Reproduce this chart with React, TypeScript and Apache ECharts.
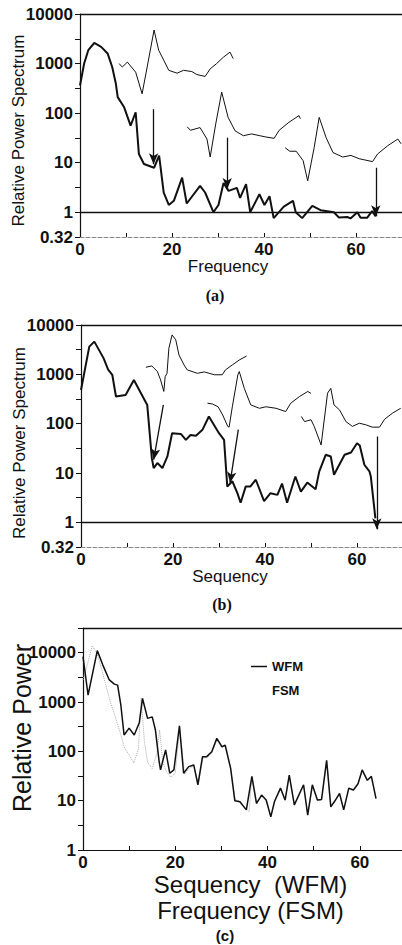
import React, { useEffect, useRef } from "react";
import * as echarts from "echarts";

// ---------- DATA ----------
// Panel (a): Frequency vs Relative Power Spectrum
const aMain: number[][] = [
  [0, 360], [0.9, 1000], [1.8, 1860], [3.1, 2600], [4.6, 2170], [6.0, 1600], [7.0, 850], [7.8, 390],
  [8.2, 210], [9.6, 131], [11.0, 56], [12.1, 104], [12.8, 15], [13.9, 9.4], [16.1, 7.9], [17.2, 13.8],
  [18.2, 2.5], [19.3, 1.4], [20.4, 1.7], [22.2, 5.0], [23.2, 1.5], [26.1, 3.4], [27.2, 2.5], [29.0, 1.0],
  [30.1, 1.4], [31.2, 3.9], [32.3, 2.7], [34.1, 3.1], [34.8, 1.95], [36.1, 3.7], [37.0, 1.0], [39.0, 2.3],
  [40.1, 1.4], [41.2, 2.1], [42.1, 0.76], [44.3, 1.3], [46.3, 1.7], [46.9, 1.0], [48.3, 0.76], [50.5, 1.35],
  [52.3, 1.1], [55.2, 1.0], [56.3, 0.78], [58.1, 0.8], [58.8, 0.75], [60.3, 1.0], [61.0, 0.77], [62.4, 0.77],
  [63.5, 1.05], [64.3, 0.82],
];
const aInset1: number[][] = [
  [8.5, 1000], [9.2, 850], [10.3, 1070], [12.1, 670], [13.5, 245], [14.6, 850], [16.1, 4750], [17.1, 1860],
  [18.2, 1170], [19.3, 730], [21.1, 640], [22.5, 730], [24.3, 690], [25.4, 600], [27.2, 550], [28.3, 780],
  [29.7, 1000], [31.2, 1350], [32.6, 1700], [33.3, 1260],
];
const aInset2: number[][] = [
  [23.3, 53], [24.0, 45], [26.1, 51], [27.6, 30], [28.3, 13], [29.5, 60], [30.8, 265], [32.2, 82],
  [33.7, 44], [35.5, 35], [37.3, 38], [39.1, 35], [40.4, 33], [42.2, 31], [43.3, 45], [45.4, 65],
  [47.6, 89], [47.9, 77],
];
const aInset3: number[][] = [
  [44.6, 20], [45.6, 17], [47.0, 17], [48.5, 11], [49.5, 4.3], [50.9, 20], [52.0, 82], [53.5, 32],
  [55.0, 16], [57.1, 13], [58.9, 14], [60.7, 12], [63.6, 10.5], [64.7, 15], [66.9, 22], [69.1, 30], [69.8, 24],
];
const aArrows: number[][][] = [
  [[16, 120], [16, 9.3]],
  [[32, 32], [32, 2.95]],
  [[64.3, 7.9], [64.3, 0.83]],
];

// Panel (b): Sequency vs Relative Power Spectrum
const bMain: number[][] = [
  [0, 480], [1.8, 3640], [2.9, 4600], [4.9, 2130], [5.9, 1240], [6.8, 980], [7.6, 355], [9.7, 380],
  [11.5, 770], [14.4, 240], [15.4, 20], [15.8, 12.6], [16.6, 15.9], [17.7, 12.6], [18.8, 22], [19.8, 64],
  [21.7, 62], [22.8, 47], [23.8, 59], [25.0, 57], [26.4, 75], [27.8, 140], [30.0, 64], [31.1, 47],
  [31.8, 5.3], [32.9, 6.8], [34.0, 3.9], [34.7, 2.5], [35.8, 5.3], [36.8, 5.3], [38.0, 7.3], [39.8, 2.7],
  [41.2, 3.9], [42.7, 3.6], [43.7, 6.1], [44.8, 2.5], [46.6, 8.5], [47.8, 4.2], [49.2, 6.4], [51.0, 4.7],
  [51.8, 10.8], [53.2, 23.4], [54.3, 21.6], [55.0, 9.2], [57.3, 23.4], [58.7, 26], [60.0, 40], [60.6, 36],
  [61.6, 14.7], [62.7, 10.8], [63.0, 8.5], [64.0, 1.2],
];
const bInset1: number[][] = [
  [14.1, 1390], [15.4, 1480], [16.6, 1140], [17.3, 770], [18.0, 450], [18.3, 900], [18.7, 1050], [19.1, 3380],
  [19.8, 6300], [20.6, 5000], [21.3, 2470], [22.4, 1550], [23.1, 1230], [25.3, 1050], [26.8, 1120], [29.0, 980],
  [30.7, 980], [31.4, 1230], [32.9, 1550], [34.4, 1950], [36.0, 2350],
];
const bInset2: number[][] = [
  [27.5, 260], [28.6, 250], [29.8, 220], [30.8, 150], [31.9, 88], [32.2, 85], [32.9, 220], [34.1, 980],
  [34.4, 1140], [35.5, 520], [36.9, 240], [38.8, 205], [40.2, 220], [42.4, 205], [44.5, 176], [45.6, 260],
  [47.5, 355], [49.3, 450], [50.0, 410],
];
const bInset3: number[][] = [
  [47.9, 140], [48.6, 110], [50.0, 120], [50.7, 88], [52.2, 37], [53.6, 415], [54.3, 520], [55.0, 240],
  [56.2, 190], [57.6, 110], [59.0, 88], [60.5, 102], [61.9, 95], [63.3, 85], [64.9, 85], [66.0, 123],
  [67.7, 163], [69.5, 205],
];
const bArrows: number[][][] = [
  [[17.9, 240], [15.8, 18.6]],
  [[34.2, 76], [32.4, 6.3]],
  [[64.3, 55], [64.3, 0.72]],
];

// Panel (c): WFM vs FSM
const cWFM: number[][] = [
  [0, 8300], [1.1, 1380], [3.1, 11000], [4.3, 5600], [5.7, 2800], [6.8, 2300], [7.5, 2200], [8.2, 870],
  [8.9, 215], [10.0, 295], [11.1, 215], [12.2, 380], [12.9, 1180], [14.0, 465], [15.0, 500], [15.7, 270],
  [16.5, 62], [16.8, 42], [17.9, 107], [18.8, 36], [19.7, 42], [20.9, 330], [21.8, 36], [22.9, 49],
  [24.0, 53], [24.9, 21], [25.9, 78], [26.8, 78], [27.9, 98], [29.0, 183], [30.1, 124], [30.8, 134],
  [32.0, 45], [32.9, 10], [34.0, 9.5], [35.4, 6.5], [36.6, 31], [37.6, 8.8], [38.7, 13], [39.7, 10.3],
  [40.7, 4.7], [41.5, 9.6], [42.8, 18], [43.8, 10.3], [44.7, 33], [45.8, 8.2], [47.8, 21], [48.7, 5.1],
  [49.7, 21], [50.8, 10.3], [51.7, 10.6], [52.8, 66], [53.7, 7.5], [54.5, 9.6], [55.6, 14], [56.5, 6.5],
  [57.6, 18], [58.6, 16.5], [59.6, 22], [60.5, 42], [61.6, 26], [62.5, 31], [63.5, 11],
];
const cFSM: number[][] = [
  [0, 2800], [1, 6000], [2, 13800], [3, 9700], [4, 4800], [5, 2100], [6, 950], [7, 500],
  [8, 250], [9, 117], [10, 85], [11, 58], [12, 110], [12.6, 1200], [13.3, 160], [14, 60],
  [15, 45], [16, 90], [16.6, 270], [17.3, 60], [18, 40], [19, 30], [20, 36], [21, 300],
  [22, 34], [23, 45], [24, 50], [25, 22], [26, 72], [27, 75], [28, 95], [29, 175],
  [30, 120], [31, 130], [32, 42], [33, 10.5], [34, 9.8], [35, 7.2], [36, 6], [36.6, 30],
  [37.6, 8.5], [38.7, 12.5], [39.7, 10], [40.7, 4.8], [41.5, 9.3], [42.8, 17], [43.8, 10], [44.7, 32],
  [45.8, 8], [47.8, 20], [48.7, 5.3], [49.7, 20], [50.8, 10], [51.7, 10.3], [52.8, 64], [53.7, 7.8],
  [54.5, 9.3], [55.6, 13.5], [56.5, 6.8], [57.6, 17], [58.6, 16], [59.6, 21], [60.5, 40], [61.6, 25],
  [62.5, 30], [63.5, 11.5],
];

// Tick labels
const xTickLabels = ["0", "20", "40", "60"];
const yTickLabelsAB = ["0.32", "1", "10", "100", "1000", "10000"]; // at log -0.5, 0, 1, 2, 3, 4
const yTickLabelsC = ["1", "10", "100", "1000", "10000"]; // at log 0..4

// ---------- helpers ----------
const FONT = '"Liberation Sans", Arial, Helvetica, sans-serif';
const SERIF = '"Liberation Serif", "Times New Roman", serif';
const INK = "#111";
const toLog = (pts: number[][]) => pts.map(([x, v]) => [x, Math.log10(v)]);

const yFmtAB = (v: number) => {
  const r = Math.round(v * 10) / 10;
  if (Math.abs(r + 0.5) < 1e-6) return yTickLabelsAB[0];
  if (Number.isInteger(r) && r >= 0 && r <= 4) return yTickLabelsAB[r + 1];
  return "";
};
const yFmtC = (v: number) => {
  const r = Math.round(v * 10) / 10;
  if (Number.isInteger(r) && r >= 0 && r <= 4) return yTickLabelsC[r];
  return "";
};
const xFmt = (v: number) => {
  const i = xTickLabels.indexOf(String(v));
  return i >= 0 ? xTickLabels[i] : "";
};

const tickLabelStyle = { fontSize: 17, fontWeight: "bold" as const, color: INK, fontFamily: FONT };

function makeX(gridIndex: number, name: string, nameGap: number, padding: number[], solid: boolean, nameSize: number, lineHeight?: number) {
  return {
    type: "value",
    gridIndex,
    min: 0,
    max: 70,
    interval: 10,
    axisLine: {
      show: true,
      onZero: false,
      lineStyle: solid ? { color: INK, width: 1.2 } : { color: "#888", width: 1, type: "dashed" },
    },
    axisTick: { show: true, inside: true, length: 4, lineStyle: { color: INK, width: 1 } },
    axisLabel: { ...tickLabelStyle, lineHeight: 17, margin: 4, formatter: xFmt, showMinLabel: true, showMaxLabel: true },
    splitLine: { show: false },
    name,
    nameLocation: "middle",
    nameGap,
    nameMoveOverlap: false,
    nameTextStyle: { fontSize: nameSize, color: INK, fontFamily: FONT, padding, lineHeight },
  };
}

function makeY(gridIndex: number, min: number, max: number, fmt: (v: number) => string, name: string, nameGap: number, nameSize: number, padding: number[]) {
  return {
    type: "value",
    gridIndex,
    min,
    max,
    interval: 0.5,
    axisLine: { show: true, onZero: false, lineStyle: { color: INK, width: 1.2 } },
    axisTick: { show: true, inside: false, length: 5, lineStyle: { color: INK, width: 1 } },
    axisLabel: { ...tickLabelStyle, margin: 7, formatter: fmt, showMinLabel: true, showMaxLabel: true },
    splitLine: { show: false },
    name,
    nameLocation: "middle",
    nameGap,
    nameMoveOverlap: false,
    nameTextStyle: { fontSize: nameSize, color: INK, fontFamily: FONT, padding },
  };
}

const arrowMark = (arrows: number[][][]) =>
  arrows.map(([p, q]) => [
    { coord: [p[0], Math.log10(p[1])], symbol: "none" },
    { coord: [q[0], Math.log10(q[1])], symbol: "arrow", symbolSize: [7, 11] },
  ]);

function line(idx: number, name: string, pts: number[][], width: number, extra: any = {}) {
  return {
    type: "line",
    name,
    xAxisIndex: idx,
    yAxisIndex: idx,
    data: toLog(pts),
    symbol: "none",
    smooth: false,
    lineStyle: { color: INK, width },
    itemStyle: { color: INK },
    silent: true,
    ...extra,
  };
}

const frameMark = (levels: number[], arrows: number[][][]) => ({
  silent: true,
  symbol: ["none", "none"],
  label: { show: false },
  emphasis: { disabled: true },
  lineStyle: { color: INK, width: 1.3, type: "solid" },
  data: [...levels.map((y) => ({ yAxis: y })), ...arrowMark(arrows)],
});

export default function App() {
  const ref = useRef<HTMLDivElement>(null);
  useEffect(() => {
    document.body.style.margin = "0";
    if (!ref.current) return;
    const chart = echarts.init(ref.current, undefined, { renderer: "svg" });
    const option: any = {
      animation: false,
      backgroundColor: "#fff",
      textStyle: { fontFamily: FONT },
      grid: [
        { left: 80, top: 14, width: 322, height: 223, outerBoundsMode: "none", containLabel: false },
        { left: 81, top: 325, width: 322, height: 222, outerBoundsMode: "none", containLabel: false },
        { left: 83, top: 628, width: 323, height: 222, outerBoundsMode: "none", containLabel: false },
      ],
      xAxis: [
        makeX(0, "Frequency", 21, [0, 26, 0, 0], false, 17),
        makeX(1, "Sequency", 21, [0, 24, 0, 0], false, 17),
        makeX(2, "Sequency  (WFM)\nFrequency (FSM)", 21, [0, 0, 0, 12], true, 24, 26),
      ],
      yAxis: [
        makeY(0, -0.5, 4, yFmtAB, "Relative Power Spectrum", 53, 17, [0, 10, 0, 0]),
        makeY(1, -0.5, 4, yFmtAB, "Relative Power Spectrum", 53, 17, [0, 14, 0, 0]),
        makeY(2, 0, 4.5, yFmtC, "Relative Power", 49, 25, [0, 0, 0, 22]),
      ],
      legend: {
        data: [
          { name: "WFM", icon: "rect", itemStyle: { color: INK } },
          { name: "FSM", icon: "rect", itemStyle: { color: "#fff", opacity: 0 } },
        ],
        orient: "vertical",
        left: 246,
        top: 654,
        itemWidth: 16,
        itemHeight: 1.5,
        itemGap: 9,
        selectedMode: false,
        textStyle: { fontSize: 13, fontWeight: "bold", color: INK, fontFamily: FONT, lineHeight: 15 },
      },
      series: [
        line(0, "a-main", aMain, 2, { markLine: frameMark([0, 4], aArrows) }),
        line(0, "a-inset1", aInset1, 1),
        line(0, "a-inset2", aInset2, 1),
        line(0, "a-inset3", aInset3, 1),
        line(1, "b-main", bMain, 2, { markLine: frameMark([0, 4], bArrows) }),
        line(1, "b-inset1", bInset1, 1),
        line(1, "b-inset2", bInset2, 1),
        line(1, "b-inset3", bInset3, 1),
        line(2, "FSM", cFSM, 1, { lineStyle: { color: "#aaa", width: 1, type: "dotted" }, itemStyle: { color: "#aaa" }, z: 1 }),
        line(2, "WFM", cWFM, 1.5, { z: 3, markLine: frameMark([4.5], []) }),
      ],
      graphic: [
        { type: "text", x: 215, y: 295, style: { text: "(a)", fontSize: 16, fontWeight: "bold", fontFamily: SERIF, fill: INK, textAlign: "center", textVerticalAlign: "middle" } },
        { type: "text", x: 222, y: 604, style: { text: "(b)", fontSize: 16, fontWeight: "bold", fontFamily: SERIF, fill: INK, textAlign: "center", textVerticalAlign: "middle" } },
        { type: "text", x: 225, y: 935, style: { text: "(c)", fontSize: 15, fontWeight: "bold", fontFamily: FONT, fill: INK, textAlign: "center", textVerticalAlign: "middle" } },
      ],
    };
    chart.setOption(option);
    return () => chart.dispose();
  }, []);
  return <div ref={ref} style={{ width: 402, height: 945 }} />;
}
